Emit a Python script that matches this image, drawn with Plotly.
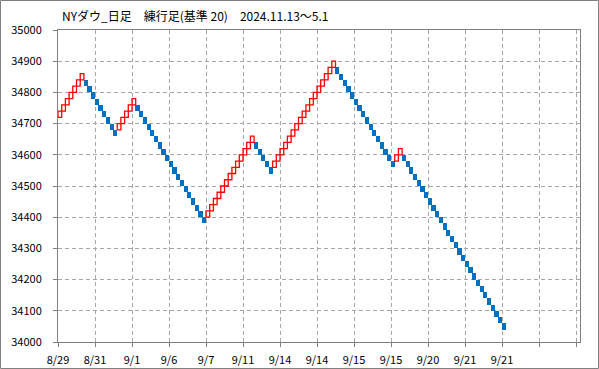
import plotly.graph_objects as go

BRICK = 20
# brick lows, in chart order
brick_low = [
    34720, 34740, 34760, 34780, 34800, 34820, 34840,
    34820, 34800, 34780, 34760, 34740, 34720, 34700, 34680, 34660,
    34680, 34700, 34720, 34740, 34760,
    34740, 34720, 34700, 34680, 34660, 34640, 34620, 34600, 34580, 34560,
    34540, 34520, 34500, 34480, 34460, 34440, 34420, 34400, 34380,
    34400, 34420, 34440, 34460, 34480, 34500, 34520, 34540, 34560, 34580,
    34600, 34620, 34640,
    34620, 34600, 34580, 34560, 34540,
    34560, 34580, 34600, 34620, 34640, 34660, 34680, 34700, 34720, 34740,
    34760, 34780, 34800, 34820, 34840, 34860, 34880,
    34860, 34840, 34820, 34800, 34780, 34760, 34740, 34720, 34700, 34680,
    34660, 34640, 34620, 34600, 34580, 34560,
    34580, 34600,
    34580, 34560, 34540, 34520, 34500, 34480, 34460, 34440, 34420, 34400,
    34380, 34360, 34340, 34320, 34300, 34280, 34260, 34240, 34220, 34200,
    34180, 34160, 34140, 34120, 34100, 34080, 34060, 34040,
]
# direction of each brick: U = up (red), D = down (blue)
brick_dir = list(
    "UUUUUUU" + "DDDDDDDDD" + "UUUUU" + "DDDDDDDDDDDDDDDDDDD" + "UUUUUUUUUUUUU"
    + "DDDDD" + "UUUUUUUUUUUUUUUUU" + "DDDDDDDDDDDDDDDD" + "UU"
    + "DDDDDDDDDDDDDDDDDDDDDDDDDDDD"
)

tick_pos = [0, 10, 20, 30, 40, 50, 60, 70, 80, 90, 100, 110, 120, 130, 140]
tick_labels = ["8/29", "8/31", "9/1", "9/6", "9/7", "9/11", "9/14", "9/14",
               "9/15", "9/15", "9/20", "9/21", "9/21", "", ""]
y_ticks = list(range(34000, 35001, 100))
y_labels = [str(v) for v in y_ticks]

title_text = "NYダウ_日足　練行足(基準 20)　2024.11.13～5.1"

# up bricks as outlined rectangles (one path, gaps between bricks)
up_x, up_y = [], []
for i, d in enumerate(brick_dir):
    if d == "U":
        lo, hi = brick_low[i], brick_low[i] + BRICK
        up_x += [i, i + 1, i + 1, i, i, None]
        up_y += [lo, lo, hi, hi, lo, None]

dn_x = [i + 0.5 for i, d in enumerate(brick_dir) if d == "D"]
dn_b = [brick_low[i] for i, d in enumerate(brick_dir) if d == "D"]

fig = go.Figure()
fig.add_trace(go.Bar(
    x=dn_x, y=[BRICK] * len(dn_x), base=dn_b, width=1.15,
    marker=dict(color="#0070C0", line=dict(width=0)), showlegend=False,
))
fig.add_trace(go.Scatter(
    x=up_x, y=up_y, mode="lines", line=dict(color="#FF0000", width=1.3),
    showlegend=False, hoverinfo="skip",
))

W, H = 599, 369
L, R, T, B = 58, 19, 30, 27
pw, ph = W - L - R, H - T - B

fig.update_layout(
    width=W, height=H,
    margin=dict(l=L, r=R, t=T, b=B, pad=0),
    paper_bgcolor="white", plot_bgcolor="white",
    barmode="overlay", bargap=0,
    font=dict(family="Noto Sans CJK JP", size=11, color="#000000"),
    title=dict(text=title_text, x=62 / W, xanchor="left", xref="container",
               y=1 - 17 / H, yanchor="middle", yref="container",
               font=dict(family="Noto Sans CJK JP", size=12, color="#000000")),
    xaxis=dict(
        range=[0, pw / 3.7], tickmode="array", tickvals=tick_pos, ticktext=tick_labels,
        showgrid=True, gridcolor="#A6A6A6", griddash="4px,3px", gridwidth=1,
        showline=True, linecolor="#808080", linewidth=1, mirror=True,
        ticks="outside", ticklen=4, tickcolor="#808080", zeroline=False,
        ticklabelstandoff=4, automargin=False,
    ),
    yaxis=dict(
        range=[34000, 35000], tickmode="array", tickvals=y_ticks, ticktext=y_labels,
        showgrid=True, gridcolor="#A6A6A6", griddash="4px,3px", gridwidth=1,
        showline=True, linecolor="#808080", linewidth=1, mirror=True,
        ticks="outside", ticklen=4, tickcolor="#808080", zeroline=False,
        ticklabelstandoff=9, automargin=False,
    ),
    shapes=[dict(
        type="rect", xref="paper", yref="paper",
        x0=(0.5 - L) / pw, x1=(W - 0.5 - L) / pw,
        y0=(H - B - (H - 0.5)) / ph, y1=(H - B - 0.5) / ph,
        line=dict(color="#808080", width=1), fillcolor="rgba(0,0,0,0)", layer="above",
    )],
)

fig.write_html("out.html")
